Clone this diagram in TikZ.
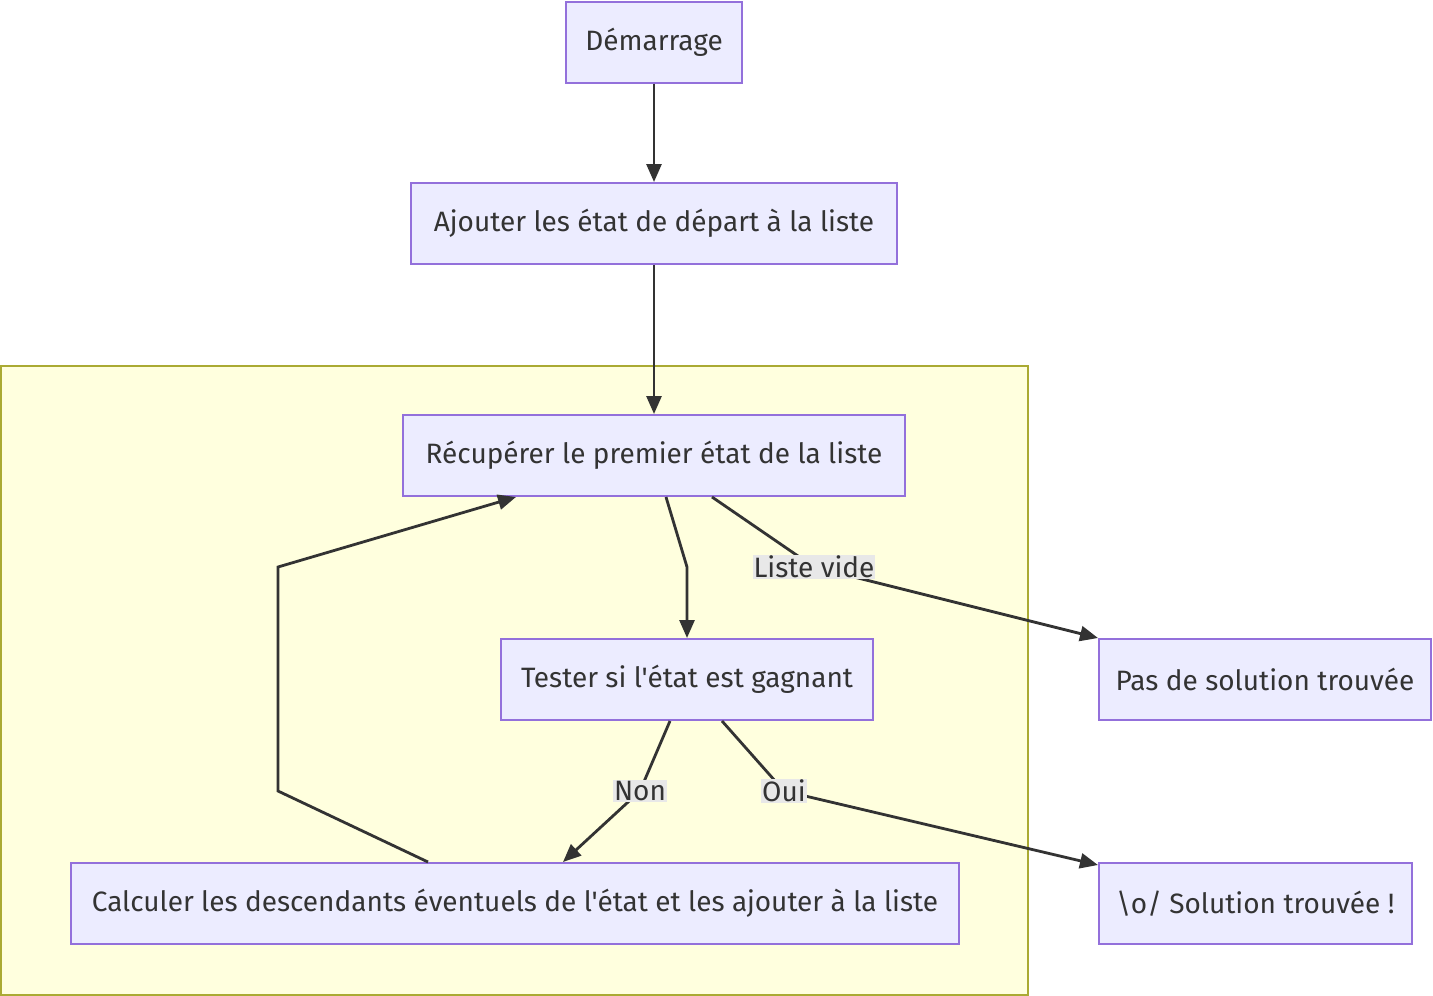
\documentclass[tikz,border=0pt]{standalone}
\usepackage{fontspec}
\setmainfont{Fira Sans}[Ligatures=TeXOff]
\usetikzlibrary{arrows.meta}
\definecolor{nodefill}{HTML}{ECECFF}
\definecolor{nodeline}{HTML}{9370DB}
\definecolor{txt}{HTML}{333333}
\definecolor{clfill}{HTML}{FFFFDE}
\definecolor{clline}{HTML}{AAAA33}
\definecolor{lblfill}{HTML}{E8E8E8}
\tikzset{
  box/.style={draw=nodeline, fill=nodefill, line width=2pt, text=txt, inner sep=0pt,
    minimum height=81pt, font=\fontsize{28}{33}\selectfont},
  edge/.style={draw=txt, line width=2.8pt, -{Triangle[length=18pt,width=15pt]}},
  lbl/.style={fill=lblfill, text=txt, inner sep=1pt, font=\fontsize{28}{33}\selectfont}
}
\begin{document}
\begin{tikzpicture}[x=1pt,y=-1pt]
\useasboundingbox (0,0) rectangle (1433,996);
\draw[draw=clline, fill=clfill, line width=2pt] (1,366) rectangle (1028,995);
\node[box, minimum width=176pt] (dem) at (654,42) {Démarrage};
\node[box, minimum width=486pt] (ajo) at (654,223.5) {Ajouter les état de départ à la liste};
\node[box, minimum width=502pt] (rec) at (654,455.5) {Récupérer le premier état de la liste};
\node[box, minimum width=372pt] (tes) at (687,679.5) {Tester si l'état est gagnant};
\node[box, minimum width=332pt] (pas) at (1265,679.5) {Pas de solution trouvée};
\node[box, minimum width=888pt] (cal) at (515,903.5) {Calculer les descendants éventuels de l'état et les ajouter à la liste};
\node[box, minimum width=313pt] (sol) at (1255.5,903.5) {\textbackslash o/ Solution trouvée !};
\coordinate (c1) at (687,567);
\coordinate (c2) at (278,791);
\coordinate (c3) at (278,567);
\draw[edge] (dem) -- (ajo);
\draw[edge] (ajo) -- (rec);
\draw[edge] ([xshift=12pt]rec.south) -- (c1) -- (tes.north);
\draw[edge] ([xshift=58pt]rec.south) -- (814,567) -- (pas.north west);
\draw[edge] ([xshift=-17pt]tes.south) -- (640,791) -- ([xshift=48pt]cal.north);
\draw[edge] ([xshift=35pt]tes.south) -- (784,791) -- ([yshift=-3pt]sol.north west);
\draw[edge] ([xshift=-87pt]cal.north) -- (c2) -- (c3) -- ([xshift=-138pt]rec.south);
\node[lbl] (lv) at (814,567) {Liste vide};
\node[lbl] (non) at (640,791) {Non};
\node[lbl] (oui) at (784,791) {Oui};
\end{tikzpicture}
\end{document}
